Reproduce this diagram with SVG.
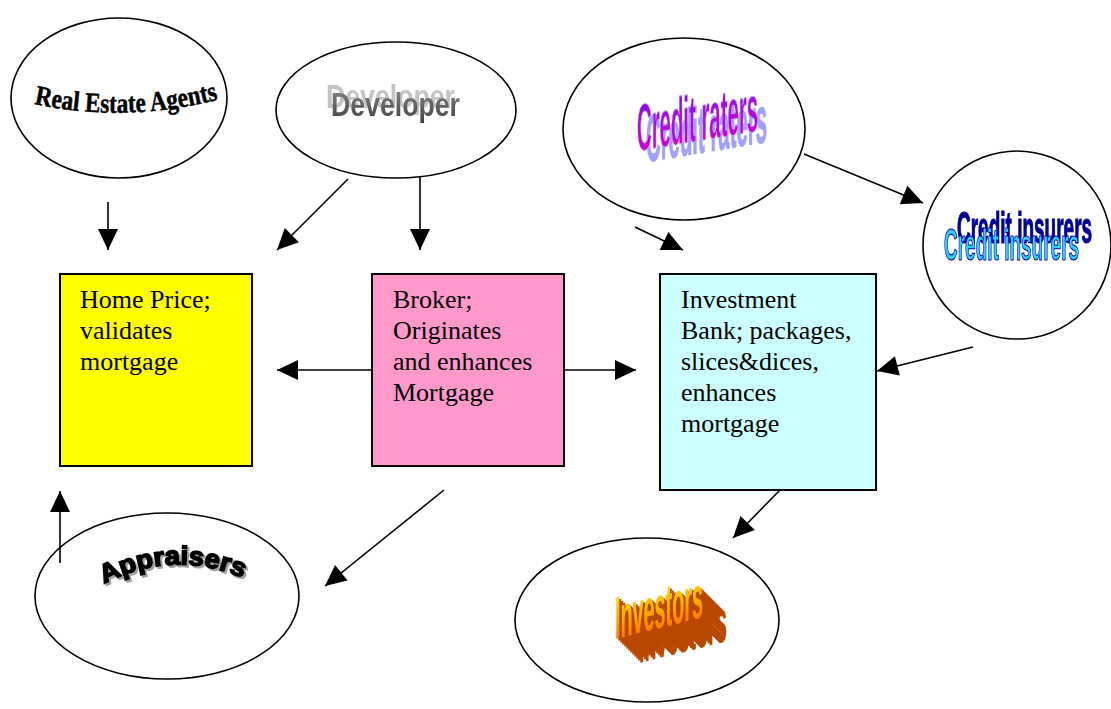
<svg xmlns="http://www.w3.org/2000/svg" width="1111" height="709" viewBox="0 0 1111 709">
<style>
.ell{fill:#fff;stroke:#000;stroke-width:1.6}
.box{stroke:#000;stroke-width:2}
.bt{font-family:"Liberation Serif","Times New Roman",serif;font-size:26px;fill:#000}
.con line{stroke:#000;stroke-width:1.6;marker-end:url(#ah)}
.wa{font-family:"Liberation Sans",Arial,sans-serif;font-weight:bold}
</style>
<defs>
<marker id="ah" markerUnits="userSpaceOnUse" markerWidth="22" markerHeight="20" refX="21" refY="10" orient="auto" overflow="visible">
<path d="M0,0 L21,10 L0,20 z" fill="#000"/>
</marker>
<linearGradient id="gDev" x1="0" y1="0" x2="0" y2="1"><stop offset="0" stop-color="#8a8a8a"/><stop offset="1" stop-color="#404040"/></linearGradient>
<linearGradient id="gCr" x1="0" y1="0" x2="0" y2="1"><stop offset="0" stop-color="#7a10f0"/><stop offset="1" stop-color="#e000c8"/></linearGradient>
<linearGradient id="gInv" x1="0" y1="0" x2="0" y2="1"><stop offset="0" stop-color="#ffee00"/><stop offset="0.5" stop-color="#ffb000"/><stop offset="1" stop-color="#ff5a00"/></linearGradient>
<filter id="fDev" x="-20%" y="-60%" width="140%" height="200%">
<feFlood flood-color="#c4c4c4"/><feComposite in2="SourceAlpha" operator="in"/><feOffset dx="-5" dy="-8"/>
<feMerge><feMergeNode/><feMergeNode in="SourceGraphic"/></feMerge></filter>
<filter id="fCr" x="-20%" y="-40%" width="150%" height="200%">
<feFlood flood-color="#a0a0ff"/><feComposite in2="SourceAlpha" operator="in"/><feOffset dx="9" dy="11"/>
<feMerge><feMergeNode/><feMergeNode in="SourceGraphic"/></feMerge></filter>
<filter id="fCi" x="-3%" y="-80%" width="115%" height="250%">
<feFlood flood-color="#000099"/><feComposite in2="SourceAlpha" operator="in"/><feOffset dx="13" dy="-17"/>
<feMerge><feMergeNode/><feMergeNode in="SourceGraphic"/></feMerge></filter>
<filter id="fAp" x="-20%" y="-40%" width="140%" height="200%">
<feFlood flood-color="#a0a0a0"/><feComposite in2="SourceAlpha" operator="in"/><feOffset dx="2" dy="2"/>
<feMerge><feMergeNode/><feMergeNode in="SourceGraphic"/></feMerge></filter>
<filter id="fInv" x="-20%" y="-40%" width="180%" height="220%">
<feFlood flood-color="#b94800"/><feComposite in2="SourceAlpha" operator="in" result="c"/>
<feOffset in="c" dx="2" dy="2" result="o1"/><feOffset in="c" dx="4" dy="4" result="o2"/>
<feOffset in="c" dx="6" dy="6" result="o3"/><feOffset in="c" dx="8" dy="8" result="o4"/>
<feOffset in="c" dx="10" dy="10" result="o5"/><feOffset in="c" dx="12" dy="12" result="o6"/>
<feOffset in="c" dx="14" dy="14" result="o7"/><feOffset in="c" dx="16" dy="16" result="o8"/>
<feOffset in="c" dx="18" dy="18" result="o9"/><feOffset in="c" dx="20" dy="20" result="o10"/>
<feOffset in="c" dx="22" dy="22" result="o11"/><feOffset in="c" dx="24" dy="24" result="o12"/>
<feMerge><feMergeNode in="o12"/><feMergeNode in="o11"/><feMergeNode in="o10"/><feMergeNode in="o9"/><feMergeNode in="o8"/><feMergeNode in="o7"/><feMergeNode in="o6"/><feMergeNode in="o5"/><feMergeNode in="o4"/><feMergeNode in="o3"/><feMergeNode in="o2"/><feMergeNode in="o1"/><feMergeNode in="SourceGraphic"/></feMerge></filter>
<path id="pRea" d="M 34,104 Q 128,124 224,98"/>
<path id="pApp" d="M 104,584 Q 176,546 252,582"/>
</defs>
<rect width="1111" height="709" fill="#fff"/>

<g id="real-estate-agents">
<ellipse class="ell" cx="119" cy="98" rx="108" ry="80"/>
<text class="wa" style="font-family:'Liberation Serif','Times New Roman',serif" font-size="28" fill="#000" stroke="#000" stroke-width="0.5"><textPath href="#pRea" textLength="186" lengthAdjust="spacingAndGlyphs">Real Estate Agents</textPath></text>
</g>

<g id="developer">
<ellipse class="ell" cx="396" cy="110" rx="120" ry="68"/>
<g filter="url(#fDev)"><text class="wa" x="331" y="116" font-size="33" fill="url(#gDev)" textLength="129" lengthAdjust="spacingAndGlyphs">Developer</text></g>
</g>

<g id="credit-raters">
<ellipse class="ell" cx="684" cy="129" rx="121" ry="91"/>
<g filter="url(#fCr)"><text class="wa" transform="translate(637,151) skewY(-9.5)" font-size="66" fill="url(#gCr)" stroke="#c8a0ff" stroke-width="1" textLength="121" lengthAdjust="spacingAndGlyphs">Credit raters</text></g>
</g>

<g id="credit-insurers">
<ellipse class="ell" cx="1017" cy="245" rx="94" ry="94"/>
<g filter="url(#fCi)"><text class="wa" transform="translate(944,260) scale(1,2.3)" font-size="19" fill="#33ccff" stroke="#000099" stroke-width="0.5">Credit insurers</text></g>
</g>

<g id="home-price">
<rect class="box" x="60" y="274" width="192" height="192" fill="#ffff00"/>
<text class="bt" x="80" y="308">Home Price;</text>
<text class="bt" x="80" y="339">validates</text>
<text class="bt" x="80" y="370">mortgage</text>
</g>

<g id="broker">
<rect class="box" x="372" y="274" width="192" height="192" fill="#ff99cc"/>
<text class="bt" x="393" y="308">Broker;</text>
<text class="bt" x="393" y="339">Originates</text>
<text class="bt" x="393" y="370">and enhances</text>
<text class="bt" x="393" y="401">Mortgage</text>
</g>

<g id="investment-bank">
<rect class="box" x="660" y="274" width="216" height="216" fill="#ccffff"/>
<text class="bt" x="681" y="308">Investment</text>
<text class="bt" x="681" y="339">Bank; packages,</text>
<text class="bt" x="681" y="370">slices&amp;dices,</text>
<text class="bt" x="681" y="401">enhances</text>
<text class="bt" x="681" y="432">mortgage</text>
</g>

<g id="appraisers">
<ellipse class="ell" cx="167" cy="596" rx="132" ry="83"/>
<g filter="url(#fAp)"><text class="wa" font-size="26" fill="#000" stroke="#000" stroke-width="1.8"><textPath href="#pApp" textLength="144" lengthAdjust="spacingAndGlyphs">Appraisers</textPath></text></g>
</g>

<g id="investors">
<ellipse class="ell" cx="647" cy="620" rx="132" ry="82"/>
<g filter="url(#fInv)"><text class="wa" transform="translate(615,639) skewY(-14)" font-size="60" fill="url(#gInv)" textLength="88" lengthAdjust="spacingAndGlyphs">Investors</text></g>
</g>

<g id="connectors" class="con">
<line x1="108" y1="202" x2="108" y2="250"/>
<line x1="348" y1="179" x2="277" y2="250"/>
<line x1="420" y1="177" x2="420" y2="250"/>
<line x1="635" y1="227" x2="683" y2="250"/>
<line x1="804" y1="154" x2="923" y2="203"/>
<line x1="973" y1="347" x2="877" y2="371"/>
<line x1="372" y1="370" x2="277" y2="370"/>
<line x1="564" y1="370" x2="636" y2="370"/>
<line x1="444" y1="490" x2="325" y2="586"/>
<line x1="60" y1="563" x2="60" y2="491"/>
<line x1="780" y1="490" x2="733" y2="538"/>
</g>
</svg>
